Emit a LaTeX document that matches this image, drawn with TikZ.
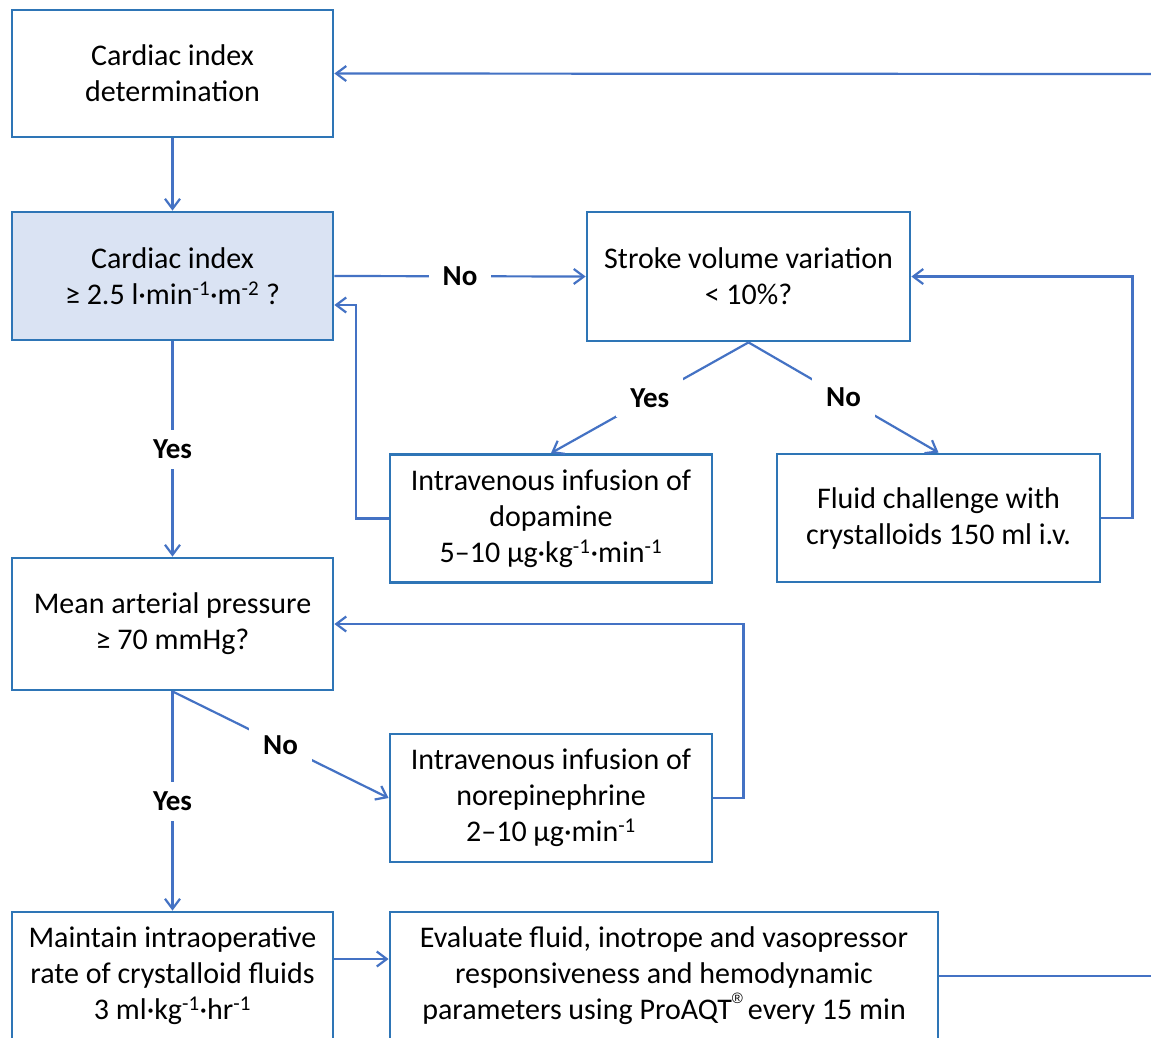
\documentclass[tikz,border=0pt]{standalone}
\usepackage{fontspec}
\setmainfont{Carlito}
\newfontfamily\regfont{Liberation Sans}
\usetikzlibrary{arrows.meta}
\definecolor{cline}{RGB}{68,114,196}
\definecolor{bord}{RGB}{46,117,182}
\definecolor{bfill}{RGB}{218,227,243}
\begin{document}
\begin{tikzpicture}[x=1pt,y=-1pt,
  box/.style={draw=bord, line width=2.8pt, rectangle, inner sep=0pt, align=center,
    font=\fontsize{30}{36}\selectfont, fill=white},
  arr/.style={draw=cline, line width=2.2pt, -{Straight Barb[length=10pt,width=15pt]}},
  plain/.style={draw=cline, line width=2.2pt},
  lbl/.style={fill=white, font=\fontsize{29}{36}\selectfont\bfseries, inner xsep=14pt, inner ysep=10pt}]
\useasboundingbox (0,0) rectangle (1151,1037);
\clip (0,0) rectangle (1151,1037);
\fill[white] (0,0) rectangle (1151,1037);

\node[box, minimum width=321pt, minimum height=127pt] (A) at (172.5,73.5) {Cardiac index\\determination};
\node[box, fill=bfill, minimum width=321pt, minimum height=128pt] (B) at (172.5,276) {Cardiac index\\≥ 2.5 l·min\textsuperscript{-1}·m\textsuperscript{-2} ?};
\node[box, minimum width=323pt, minimum height=129pt] (SVV) at (748.5,276.5) {Stroke volume variation\\< 10\%?};
\node[box, minimum width=322pt, minimum height=128pt] (dopa) at (551,518.5) {Intravenous infusion of\\dopamine\\5–10 µg·kg\textsuperscript{-1}·min\textsuperscript{-1}};
\node[box, minimum width=323pt, minimum height=128pt] (fluid) at (938.5,518) {Fluid challenge with\\crystalloids 150 ml i.v.};
\node[box, minimum width=321pt, minimum height=132pt] (MAP) at (172.5,624) {Mean arterial pressure\\≥ 70 mmHg?};
\node[box, minimum width=322pt, minimum height=128pt] (norepi) at (551,798) {Intravenous infusion of\\norepinephrine\\2–10 µg·min\textsuperscript{-1}};
\node[box, minimum width=321pt, minimum height=128pt] (maint) at (172.5,976) {Maintain intraoperative\\rate of crystalloid fluids\\3 ml·kg\textsuperscript{-1}·hr\textsuperscript{-1}};
\node[box, minimum width=548pt, minimum height=128pt] (eval) at (664,976) {Evaluate fluid, inotrope and vasopressor\\responsiveness and hemodynamic\\parameters using ProAQT\raisebox{0.55em}{\regfont\fontsize{15}{15}\selectfont ®}\,every 15 min};

\coordinate (topR) at (1151,74);
\coordinate (botR) at (1151,976);

\draw[arr] (topR) -- (A.east);
\draw[arr] (A.south) -- (B.north);
\draw[arr] (B.east) -- node[lbl]{No} (SVV.west);
\draw[arr] (SVV.south) -- node[lbl]{Yes} (dopa.north);
\draw[arr] (SVV.south) -- node[lbl]{No} (fluid.north);
\draw[arr] (dopa.west) -- ++(-33,0) |- ([yshift=-29pt]B.east);
\draw[arr] (fluid.east) -- ++(31,0) |- (SVV.east);
\draw[arr] (B.south) -- node[lbl]{Yes} (MAP.north);
\draw[arr] (MAP.south) -- node[lbl]{No} (norepi.west);
\draw[arr] (norepi.east) -- ++(30,0) |- (MAP.east);
\draw[arr] (MAP.south) -- node[lbl]{Yes} (maint.north);
\draw[arr] ([yshift=17pt]maint.east) -- ([yshift=17pt]eval.west);
\draw[plain] (eval.east) -- (botR);
\end{tikzpicture}
\end{document}
